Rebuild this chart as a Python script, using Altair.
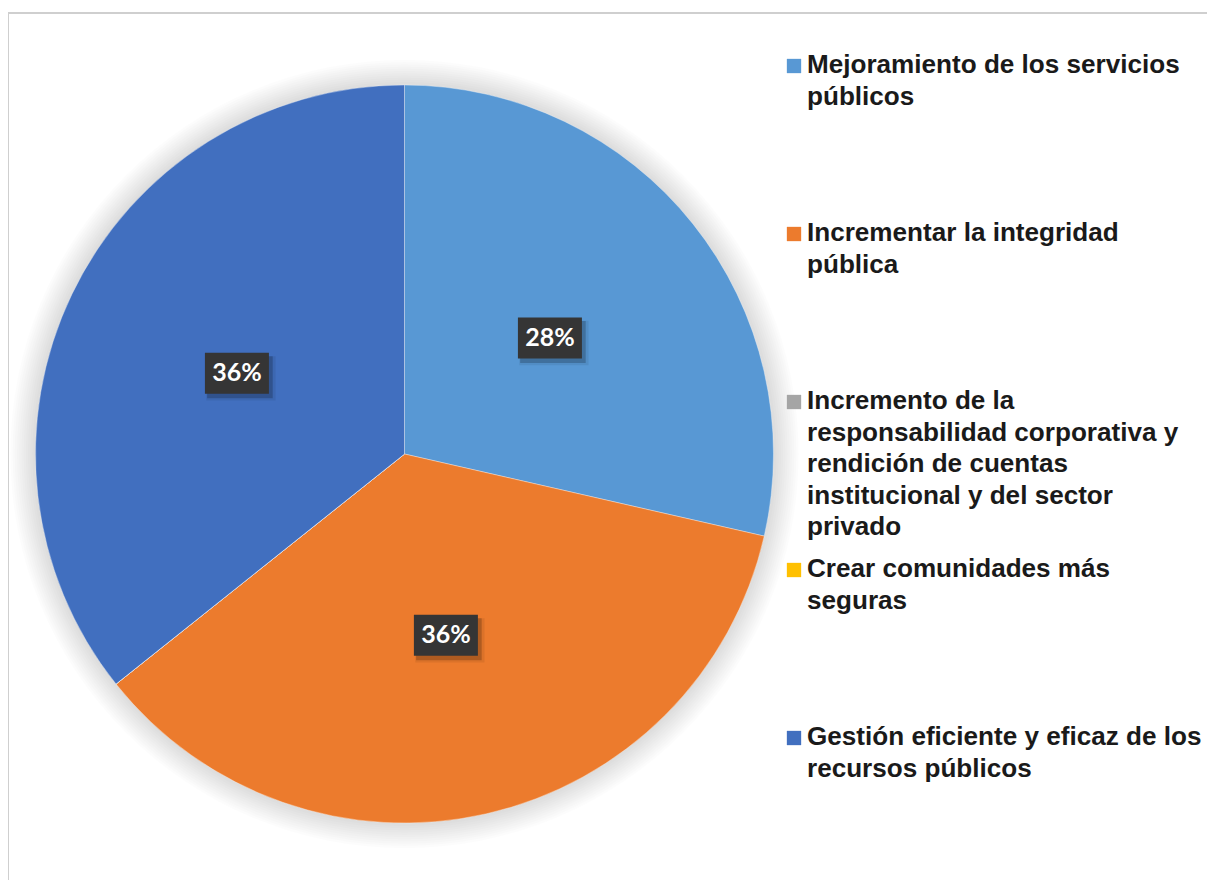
import math
import altair as alt
import pandas as pd

# ---------------- data ----------------
categories = [
    "Mejoramiento de los servicios públicos",
    "Incrementar la integridad pública",
    "Incremento de la responsabilidad corporativa y rendición de cuentas institucional y del sector privado",
    "Crear comunidades más seguras",
    "Gestión eficiente y eficaz de los recursos públicos",
]
legend_lines = [
    ["Mejoramiento de los servicios", "públicos"],
    ["Incrementar la integridad", "pública"],
    ["Incremento de la", "responsabilidad corporativa y", "rendición de cuentas",
     "institucional y del sector", "privado"],
    ["Crear comunidades más", "seguras"],
    ["Gestión eficiente y eficaz de los", "recursos públicos"],
]
values = [8, 10, 0, 0, 10]
labels = ["28%", "36%", "", "", "36%"]
colors = ["#5898D4", "#EC7B2D", "#A5A5A5", "#FFC000", "#416FBF"]

df = pd.DataFrame({
    "idx": list(range(len(categories))),
    "cat": categories,
    "value": values,
    "label": labels,
    "legend": ["\n".join(l) for l in legend_lines],
})
one = pd.DataFrame({"a": [0]})

# ---------------- layout ----------------
W, H = 1199, 872
CX, CY, R = 396.5, 446.0, 369.0
LR = 186.0  # label radius

color_scale = alt.Scale(domain=categories, range=colors)

# soft glow around the pie
glow = []
for i in range(12):
    glow.append(
        alt.Chart(one).mark_arc(outerRadius=R + 1 + 2.2 * i, theta=0,
                                theta2=2 * math.pi, fill="black", opacity=0.011)
        .encode(x=alt.value(CX), y=alt.value(CY))
    )

pie = alt.Chart(df).mark_arc(outerRadius=R, stroke="white", strokeWidth=0.8,
                             strokeOpacity=0.45).encode(
    theta=alt.Theta("value:Q", stack=True),
    color=alt.Color("cat:N", scale=color_scale, legend=None),
    order=alt.Order("idx:Q"),
    x=alt.value(CX),
    y=alt.value(CY),
)

lab_base = (
    alt.Chart(df)
    .transform_window(cum="sum(value)", sort=[alt.SortField("idx")], frame=[None, 0])
    .transform_joinaggregate(total="sum(value)")
    .transform_filter("datum.label != ''")
    .transform_calculate(
        ang="2*PI*(datum.cum - datum.value/2)/datum.total",
        px=f"{CX} + {LR}*sin(datum.ang)",
        py=f"{CY} - {LR}*cos(datum.ang)",
    )
    .encode(
        x=alt.X("px:Q", scale=None, axis=None),
        y=alt.Y("py:Q", scale=None, axis=None),
    )
)
box_path = "M-1,-0.64H1V0.64H-1Z"
box_shadow2 = lab_base.mark_point(shape=box_path, size=4800, filled=True,
                                  color="#000000", opacity=0.07,
                                  xOffset=4, yOffset=5)
box_shadow = lab_base.mark_point(shape=box_path, size=4300, filled=True,
                                 color="#000000", opacity=0.2,
                                 xOffset=3, yOffset=4)
box = lab_base.mark_point(shape=box_path, size=4096, filled=True,
                          color="#353535", opacity=1)
lab_text = lab_base.mark_text(font="Lato", fontWeight="bold", fontSize=25,
                              color="white", align="center",
                              baseline="middle").encode(text="label:N")

# legend drawn as marks
leg_y = alt.Y("cat:N", scale=alt.Scale(type="point", domain=categories,
                                       range=[65, 737], padding=0), axis=None)
leg_sq = alt.Chart(df).mark_point(shape="square", size=205, filled=True,
                                  opacity=1, yOffset=-7).encode(
    x=alt.value(786),
    y=leg_y,
    color=alt.Color("cat:N", scale=color_scale, legend=None),
)
leg_txt = alt.Chart(df).mark_text(font="Liberation Sans", fontWeight="bold",
                                  fontSize=26.1, lineHeight=31.5, lineBreak="\n",
                                  align="left", baseline="alphabetic",
                                  color="#1a1a1a").encode(
    x=alt.value(799),
    y=leg_y,
    text="legend:N",
)

# frame lines
top_line = alt.Chart(one).mark_rule(color="#cfcfcf", strokeWidth=2).encode(
    x=alt.value(0), x2=alt.value(W), y=alt.value(5))
left_line = alt.Chart(one).mark_rule(color="#cfcfcf", strokeWidth=2).encode(
    x=alt.value(0), y=alt.value(5), y2=alt.value(H))

chart = alt.layer(
    top_line, left_line, *glow, pie, box_shadow2, box_shadow, box, lab_text,
    leg_sq, leg_txt
).resolve_scale(x="independent", y="independent").properties(
    width=W, height=H,
    autosize=alt.AutoSizeParams(type="none"),
    padding=0,
    background="white",
).configure_view(stroke=None)

chart.save("out.html", embed_options={"renderer": "svg", "actions": False})
